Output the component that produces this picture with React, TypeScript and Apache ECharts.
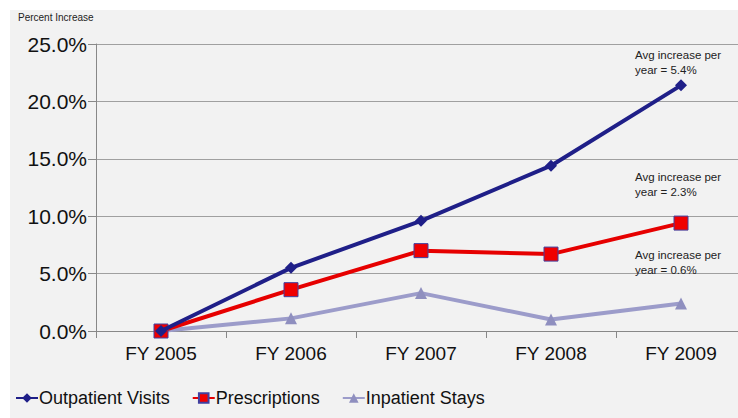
import React, { useEffect, useRef } from "react";
import * as echarts from "echarts";

const categories = ["FY 2005", "FY 2006", "FY 2007", "FY 2008", "FY 2009"];
const outpatientVisits = [0, 5.5, 9.6, 14.4, 21.4];
const prescriptions = [0, 3.6, 7.0, 6.7, 9.4];
const inpatientStays = [0, 1.1, 3.3, 1.0, 2.4];
const annotations = [
  { text: "Avg increase per\nyear = 5.4%", value: 23.35 },
  { text: "Avg increase per\nyear = 2.3%", value: 12.75 },
  { text: "Avg increase per\nyear = 0.6%", value: 5.95 },
];

export default function App() {
  const ref = useRef<HTMLDivElement>(null);
  useEffect(() => {
    document.body.style.margin = "0";
    document.body.style.overflow = "hidden";
    const chart = echarts.init(ref.current!, null, { renderer: "svg" });
    const font = "'Liberation Sans', Arial, sans-serif";
    chart.setOption({
      animation: false,
      backgroundColor: "#ffffff",
      textStyle: { fontFamily: font },
      graphic: [
        {
          type: "rect",
          z: -10,
          silent: true,
          shape: { x: 10, y: 10, width: 740, height: 420 },
          style: { fill: "#f2f2f2" },
        },
        {
          type: "text",
          left: 18,
          top: 12,
          style: { text: "Percent Increase", fontSize: 10, fill: "#222", font: `10px ${font}` },
        },
      ],
      grid: { left: 96, right: 0, top: 44, bottom: 87, containLabel: false },
      legend: {
        bottom: 6,
        left: 10,
        itemGap: 22,
        itemWidth: 22,
        itemHeight: 12,
        textStyle: { fontSize: 18, color: "#111", fontFamily: font, padding: [0, 0, 0, -4] },
        data: ["Outpatient Visits", "Prescriptions", "Inpatient Stays"],
      },
      xAxis: {
        type: "category",
        data: categories,
        boundaryGap: true,
        axisLine: { lineStyle: { color: "#888", width: 1 } },
        axisTick: { show: true, length: 7, lineStyle: { color: "#888" } },
        axisLabel: { fontSize: 19, color: "#111", margin: 13, fontFamily: font },
      },
      yAxis: {
        type: "value",
        min: 0,
        max: 25,
        interval: 5,
        axisLine: { show: true, lineStyle: { color: "#888" } },
        axisTick: { show: true, length: 8, lineStyle: { color: "#888" } },
        splitLine: { lineStyle: { color: "#a0a0a0", width: 1 } },
        axisLabel: {
          fontSize: 21,
          color: "#111",
          margin: 9,
          fontFamily: font,
          formatter: (v: number) => v.toFixed(1) + "%",
        },
      },
      series: [
        {
          name: "Outpatient Visits",
          type: "line",
          data: outpatientVisits,
          color: "#1f1f88",
          lineStyle: { width: 4, color: "#1f1f88" },
          symbol: "diamond",
          symbolSize: 12,
          itemStyle: { color: "#1f1f88" },
          z: 3,
          markPoint: {
            symbol: "rect",
            symbolSize: 0,
            label: {
              show: true,
              position: "right",
              formatter: (p: any) => p.name,
              fontSize: 11.5,
              lineHeight: 15,
              color: "#222",
              align: "left",
              offset: [-51, 0],
            },
            data: annotations.map((a) => ({
              name: a.text,
              coord: [4, a.value],
            })),
          },
        },
        {
          name: "Prescriptions",
          type: "line",
          data: prescriptions,
          color: "#e60000",
          lineStyle: { width: 4, color: "#e60000" },
          symbol: "rect",
          symbolSize: 14,
          itemStyle: { color: "#f00000", borderColor: "#4040a0", borderWidth: 1 },
          z: 2,
        },
        {
          name: "Inpatient Stays",
          type: "line",
          data: inpatientStays,
          color: "#9c9cca",
          lineStyle: { width: 4, color: "#9c9cca" },
          symbol: "triangle",
          symbolSize: 12,
          itemStyle: { color: "#8f8fbf" },
          z: 1,
        },
      ],
    });
    return () => chart.dispose();
  }, []);
  return <div ref={ref} style={{ width: 746, height: 418 }} />;
}
